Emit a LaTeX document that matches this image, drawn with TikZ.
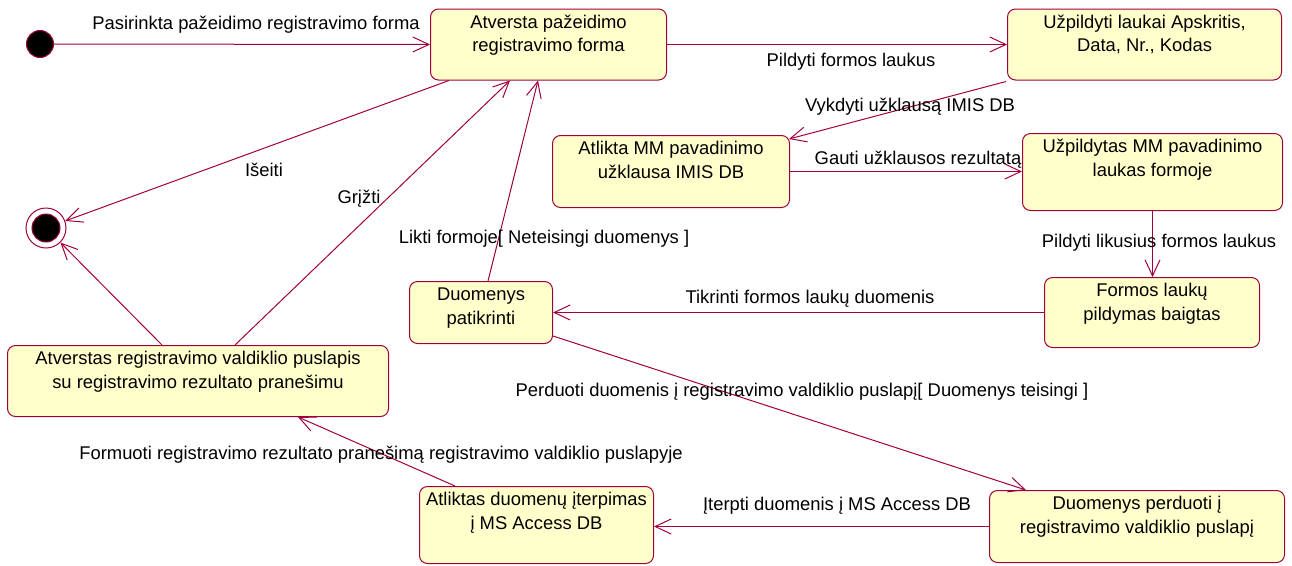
\documentclass[tikz,border=0pt]{standalone}
\usepackage{fontspec}
\setmainfont{Liberation Sans}
\usetikzlibrary{arrows.meta,calc}

\definecolor{umlline}{RGB}{160,0,60}
\definecolor{umlfill}{RGB}{255,255,204}

% fixed-size state body: text starts at the top, centred
\newcommand\boxtext[3]{\parbox[c][#2][t]{#1}{\centering\rule{0pt}{19pt}#3\par}}

\tikzset{
  state/.style={draw=umlline, fill=umlfill, rounded corners=8pt, line width=1pt,
                inner sep=0pt, anchor=north west},
  trans/.style={draw=umlline, line width=1pt,
                -{Straight Barb[length=16pt,width=15pt,line width=1pt]}},
  lbl/.style={anchor=base, inner sep=0pt},
}

\begin{document}
\begin{tikzpicture}[x=1pt, y=-1pt, font=\fontsize{18.4}{23.5}\selectfont]
\useasboundingbox (0,0) rectangle (1292,565);

% pseudo states
\node[circle, fill=black, draw=umlline, line width=1pt, minimum size=27pt, inner sep=0pt] (ini) at (40,44) {};
\node[circle, fill=white, draw=umlline, line width=1pt, minimum size=40pt, inner sep=0pt,
      path picture={\filldraw[fill=black, draw=umlline, line width=1pt]
                    (path picture bounding box.center) circle (14pt);}] (fin) at (46,228) {};

% states
\node[state] (A) at (430,8.5) {\boxtext{236pt}{71pt}{Atversta pažeidimo\\registravimo forma}};
\node[state] (B) at (1007,8.5){\boxtext{274pt}{71pt}{Užpildyti laukai Apskritis,\\Data, Nr., Kodas}};
\node[state] (C) at (552,135) {\boxtext{237pt}{72pt}{Atlikta MM pavadinimo\\užklausa IMIS DB}};
\node[state] (D) at (1022,133){\boxtext{260pt}{77pt}{Užpildytas MM pavadinimo\\laukas formoje}};
\node[state] (E) at (1044,277){\boxtext{215pt}{70pt}{Formos laukų\\pildymas baigtas}};
\node[state] (F) at (409,281) {\boxtext{143pt}{62pt}{Duomenys\\patikrinti}};
\node[state] (G) at (7,345)   {\boxtext{381pt}{71pt}{Atverstas registravimo valdiklio puslapis\\su registravimo rezultato pranešimu}};
\node[state] (H) at (419,486) {\boxtext{234pt}{77pt}{Atliktas duomenų įterpimas\\į MS Access DB}};
\node[state] (I) at (989,490) {\boxtext{295pt}{72pt}{Duomenys perduoti į\\registravimo valdiklio puslapį}};

% transitions
\draw[trans] (ini) -- (A.west);
\draw[trans] (A.east) -- (B.west);
\draw[trans] ($(B.south west)+(-1,1)$) -- ($(C.north east)+(-1,4)$);
\draw[trans] (C.east) -- (C.east -| D.west);
\draw[trans] (D.south) -- (D.south |- E.north);
\draw[trans] (E.west) -- (E.west -| F.east);
\draw[trans] ($(F.north west)+(79,0)$) -- ($(A.south west)+(108,0)$);
\draw[trans] ($(F.south east)+(0,-8)$) -- ($(I.north west)+(37,0)$);
\draw[trans] (I.west) -- (I.west -| H.east);
\draw[trans] ($(H.north west)+(36,0)$) -- ($(G.south west)+(291,0)$);
\draw[trans] ($(G.north west)+(228,0)$) -- ($(A.south west)+(80,0)$);
\draw[trans] ($(G.north west)+(155,0)$) -- (fin);
\draw[trans] ($(A.south west)+(19,0)$) -- (fin);

% transition labels
\node[lbl] (l1)  at (256,29)  {Pasirinkta pažeidimo registravimo forma};
\node[lbl] (l2)  at (851,66)  {Pildyti formos laukus};
\node[lbl] (l3)  at (910,111) {Vykdyti užklausą IMIS DB};
\node[lbl] (l4)  at (918,164) {Gauti užklausos rezultatą};
\node[lbl] (l5)  at (1159,247){Pildyti likusius formos laukus};
\node[lbl] (l6)  at (810,303) {Tikrinti formos laukų duomenis};
\node[lbl] (l7)  at (544,243) {Likti formoje[ Neteisingi duomenys ]};
\node[lbl] (l8)  at (802,396) {Perduoti duomenis į registravimo valdiklio puslapį[ Duomenys teisingi ]};
\node[lbl] (l9)  at (837,510) {Įterpti duomenis į MS Access DB};
\node[lbl] (l10) at (381,459) {Formuoti registravimo rezultato pranešimą registravimo valdiklio puslapyje};
\node[lbl] (l11) at (359,203) {Grįžti};
\node[lbl] (l12) at (264,176) {Išeiti};
\end{tikzpicture}
\end{document}
